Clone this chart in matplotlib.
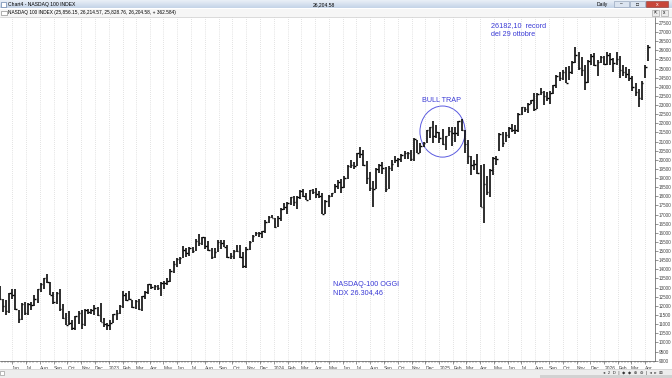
import numpy as np
import pandas as pd
import matplotlib
matplotlib.use("Agg")
import matplotlib.pyplot as plt
import matplotlib.dates as mdates
from matplotlib.patches import Ellipse, Rectangle
from matplotlib.colors import LinearSegmentedColormap
from matplotlib.ticker import MultipleLocator, FuncFormatter

plt.rcParams['font.family'] = ['Liberation Sans', 'DejaVu Sans']

W, H = 672, 378
BLUE = "#3b3bd6"

# weekly bars (NASDAQ-100), first week = Mon 2 May 2022, plotted mid-week
first_week = "2022-05-04"

week_high = [
    # 2022
    13100, 12400, 12300, 12700, 12900, 12950, 11800, 12150, 12200, 12150, 12200, 12600,
    12950, 13250, 13550, 13720, 13300, 12750, 12750, 12950, 12100, 11600, 11700, 11200,
    11450, 11700, 11750, 11850, 11850, 11850, 12050, 11950, 12170, 11330, 11070,
    # 2023
    11200, 11550, 11750, 12050, 12800, 12700, 12800, 12300, 12300, 12350, 12550, 12800,
    13200, 13200, 13150, 13150, 13300, 13350, 13500, 14000, 14450, 14600, 14700, 15290,
    15150, 15200, 15250, 15650, 15930, 15800, 15780, 15550, 15150, 15150, 15600, 15600,
    15600, 15350, 14900, 15050, 15350, 15350, 14950, 15200, 15550, 15900, 16050, 16050,
    16100, 16700, 16950, 16970,
    # 2024
    16800, 16900, 17350, 17650, 17700, 17980, 18000, 18000, 18350, 18420, 18200, 18350,
    18400, 18450, 18300, 18200, 17800, 18050, 18200, 18700, 18900, 18950, 19100, 19700,
    19980, 19900, 20400, 20690, 20550, 19950, 19350, 18850, 19550, 19800, 19900, 19600,
    19650, 20000, 20200, 20100, 20300, 20460, 20450, 20550, 21200, 21100, 20950, 21000,
    21650, 21800, 22130, 21900, 21550,
    # 2025
    21700, 21300, 21800, 21800, 21800, 22120, 22220, 21650, 21100, 20200, 20000, 20300,
    19700, 19800, 19100, 19500, 20150, 20200, 21450, 21500, 21500, 21800, 21950, 21900,
    22550, 22900, 22900, 23100, 23300, 23650, 23650, 23950, 23800, 23700, 23750, 24100,
    24650, 24800, 24900, 25100, 25150, 25400, 26180, 25900, 25650, 25200, 25450, 25800,
    25850, 25450, 25700, 25700,
    # 2026
    25900, 25850, 25600, 25900, 25700, 25200, 25100, 25000, 24600, 24200, 23900, 24300,
    25200, 26300,
]

week_low = [
    # 2022
    12300, 11650, 11500, 11600, 12400, 11800, 11040, 11250, 11500, 11500, 11800, 12000,
    12150, 12750, 12900, 13250, 12600, 12100, 12100, 11700, 11300, 10950, 10950, 10690,
    10700, 11000, 10750, 10900, 11550, 11550, 11500, 11450, 11100, 10850, 10700,
    # 2023
    10670, 11050, 11250, 11550, 11900, 12250, 12300, 11900, 11850, 11800, 11700, 12400,
    12650, 12900, 12850, 12850, 12550, 12900, 13150, 13300, 13800, 14150, 14300, 14650,
    14700, 14750, 14900, 15000, 15300, 15350, 15100, 15000, 14550, 14600, 14950, 15100,
    15200, 14650, 14550, 14550, 14950, 14600, 14070, 14100, 15050, 15500, 15850, 15750,
    15700, 16000, 16550, 16800,
    # 2024
    16250, 16300, 16650, 17250, 17050, 17500, 17450, 17300, 17850, 17950, 17800, 17800,
    18150, 17900, 17900, 17040, 17050, 17400, 17950, 18200, 18400, 18200, 18450, 18950,
    19550, 19500, 19650, 20100, 19650, 18700, 18300, 17400, 18400, 19300, 19250, 18250,
    18400, 19400, 19850, 19600, 19900, 20050, 20050, 19950, 19950, 20400, 20350, 20700,
    20900, 21200, 20950, 21200, 20900,
    # 2025
    20800, 20550, 21300, 20750, 21000, 21300, 21600, 20400, 19800, 19150, 19450, 19250,
    17400, 16540, 18100, 17950, 19150, 19700, 20500, 20700, 21000, 21200, 21500, 21400,
    21500, 22450, 22600, 22550, 23050, 22700, 22800, 23550, 23000, 23250, 23050, 23600,
    23950, 24300, 24400, 24200, 24400, 24700, 25300, 24900, 24600, 23850, 24200, 25200,
    25150, 24600, 25300, 25200,
    # 2026
    25200, 25200, 24800, 25200, 24500, 24600, 24500, 24300, 23800, 23500, 22900, 23300,
    24500, 25400,
]

week_close = [
    # 2022
    12400, 12000, 11700, 12680, 12600, 11830, 11265, 12130, 11630, 12130, 12030, 12400,
    12950, 13200, 13550, 13290, 12600, 12200, 12700, 11850, 11350, 10975, 11050, 10800,
    11450, 11600, 10990, 11800, 11680, 11780, 11900, 11500, 11120, 11000, 10940,
    # 2023
    11040, 11540, 11620, 12000, 12570, 12300, 12350, 11950, 12250, 11830, 12520, 12770,
    13180, 13060, 13080, 13000, 13250, 13240, 13340, 13900, 14300, 14550, 14600, 15080,
    14900, 15180, 15000, 15560, 15450, 15750, 15270, 15050, 14700, 14940, 15500, 15460,
    15200, 14700, 14720, 15000, 15000, 14700, 14180, 15100, 15520, 15850, 15980, 15990,
    16080, 16620, 16890, 16830,
    # 2024
    16310, 16830, 17310, 17420, 17640, 17960, 17690, 17940, 18300, 18020, 17810, 18340,
    18250, 18150, 18000, 17040, 17720, 18000, 18160, 18550, 18810, 18540, 19000, 19660,
    19700, 19680, 20390, 20330, 19720, 19000, 18440, 18430, 19510, 19720, 19570, 18420,
    19580, 19790, 20000, 20030, 20270, 20360, 20350, 20030, 21120, 20400, 20740, 20930,
    21620, 21780, 21290, 21550, 21200,
    # 2025
    20850, 21300, 21600, 21480, 21490, 22110, 21610, 20880, 20200, 19700, 19750, 19280,
    17400, 18690, 18260, 19430, 20100, 20060, 21430, 20900, 21340, 21760, 21630, 21630,
    22530, 22870, 22780, 23070, 23270, 22760, 23610, 23710, 23500, 23400, 23650, 24090,
    24620, 24500, 24790, 24220, 24820, 25360, 25720, 25060, 24950, 24240, 25430, 25690,
    25200, 25350, 25640, 25250,
    # 2026
    25750, 25500, 25300, 25550, 24900, 24800, 24700, 24500, 24000, 23700, 23400, 24200,
    25100, 26204,
]

y_ticks_step = 500
month_names = ["Jan", "Feb", "Mar", "Apr", "May", "Jun",
               "Jul", "Aug", "Sep", "Oct", "Nov", "Dec"]

assert len(week_high) == len(week_low) == len(week_close)

dates = pd.date_range(first_week, periods=len(week_close), freq="7D")
xd = mdates.date2num(dates)

fig = plt.figure(figsize=(W / 100, H / 100), dpi=100)
fig.patch.set_facecolor("white")

# --- price panel ----------------------------------------------------------
ax = fig.add_axes([0, (H - 361) / H, 655 / W, (361 - 17) / H])
ax.vlines(xd, week_low, week_high, color="black", lw=1.15)
ax.hlines(week_close, xd, xd + 3.5, color="black", lw=1.0)

ax.set_xlim(mdates.date2num(pd.Timestamp("2022-05-05")),
            mdates.date2num(pd.Timestamp("2026-04-23")))
ax.set_ylim(8980, 27827)

ax.yaxis.tick_right()
ax.yaxis.set_major_locator(MultipleLocator(y_ticks_step))
ax.yaxis.set_major_formatter(FuncFormatter(lambda v, p: "%d" % v))
ax.tick_params(axis="y", labelsize=3.3, length=2, width=0.4, pad=1,
               colors="#444444")

ax.xaxis.set_major_locator(mdates.MonthLocator())
ax.xaxis.set_minor_locator(mdates.WeekdayLocator(byweekday=mdates.MO))


def month_label(v, pos):
    d = mdates.num2date(v)
    return str(d.year) if d.month == 1 else month_names[d.month - 1]


ax.xaxis.set_major_formatter(FuncFormatter(month_label))
ax.tick_params(axis="x", which="major", labelsize=3.5, length=2.5, width=0.4,
               pad=1, colors="#444444")
ax.tick_params(axis="x", which="minor", length=1.2, width=0.3, colors="#555555")
plt.setp(ax.get_xticklabels(), ha="left")

ax.grid(axis="x", which="major", color="#c8c8c8", ls=(0, (1, 2)), lw=0.5)
for s in ("left", "top"):
    ax.spines[s].set_visible(False)
for s in ("bottom", "right"):
    ax.spines[s].set_color("#555555")
    ax.spines[s].set_linewidth(0.5)

# bull trap ring
ax.add_patch(Ellipse((mdates.date2num(pd.Timestamp("2025-01-08")), 21550),
                     100, 2800, fill=False, edgecolor="#5a5ae0", lw=0.7))

# --- window chrome (pixel coordinates) ---------------------------------
ui = fig.add_axes([0, 0, 1, 1], zorder=5)
grad = np.linspace(0, 1, 20).reshape(-1, 1)
bar_cmap = LinearSegmentedColormap.from_list("bar", ["#eef3f9", "#c5d4e8"])
ui.imshow(grad, extent=(0, W, 8.5, 0), aspect="auto", cmap=bar_cmap)
ui.set_xlim(0, W)
ui.set_ylim(H, 0)
ui.axis("off")

ui.add_patch(Rectangle((1, 1.5), 5, 5, facecolor="#ffffff", edgecolor="#4a6a9a", lw=0.4))
ui.text(8, 4.5, "Chart4 - NASDAQ 100 INDEX", fontsize=3.6, va="center")
ui.text(313, 4.5, "26,204.58", fontsize=3.6, va="center")
ui.text(597, 4.5, "Daily", fontsize=3.6, va="center")
ui.add_patch(Rectangle((614, 1), 15, 6, facecolor="#dbe4f0", edgecolor="#8a9bb3", lw=0.4))
ui.add_patch(Rectangle((630, 1), 15, 6, facecolor="#dbe4f0", edgecolor="#8a9bb3", lw=0.4))
ui.add_patch(Rectangle((646, 1), 22, 6, facecolor="#c8463a", edgecolor="#8a3a30", lw=0.4))
ui.text(621.5, 4.3, "–", fontsize=3.5, ha="center", va="center")
ui.text(637.5, 4.3, "□", fontsize=3.5, ha="center", va="center")
ui.text(657, 4.3, "x", fontsize=3.8, ha="center", va="center", color="white")

ui.add_patch(Rectangle((0, 8.5), W, 8.5, facecolor="#f6f6f6", edgecolor="none"))
ui.plot([0, W], [17, 17], color="#c0c0c0", lw=0.4)
ui.add_patch(Rectangle((0.5, 11), 6, 4, facecolor="white", edgecolor="#777777", lw=0.4))
ui.text(7.5, 12.8, "NASDAQ 100 INDEX (25,856.15, 26,214.57, 25,828.76, 26,204.58, + 362.584)",
        fontsize=3.4, va="center")
ui.add_patch(Rectangle((652, 10), 7, 6, facecolor="#ececec", edgecolor="#999999", lw=0.4))
ui.add_patch(Rectangle((661, 10), 7, 6, facecolor="#ececec", edgecolor="#999999", lw=0.4))
ui.text(655.5, 13, "⇱", fontsize=3.2, ha="center", va="center")
ui.text(664.5, 13, "x", fontsize=3.4, ha="center", va="center")

ui.add_patch(Rectangle((0, 369), W, 9, facecolor="#ededed", edgecolor="none"))
ui.plot([0, W], [369, 369], color="#c8c8c8", lw=0.4)
ui.add_patch(Rectangle((540, 375), 132, 3, facecolor="#d2d2d2", edgecolor="none"))
ui.add_patch(Rectangle((0, 370.5), 4, 4.5, facecolor="white", edgecolor="#888888", lw=0.4))
ui.text(603, 372.8, "◂  2  D  |  ◆  ◆  ⊕  ⊖  |  ◂  ▸  ⊞", fontsize=3.2, va="center",
        color="#333333")

# --- annotations ---------------------------------------------------------
ui.text(421.7, 100, "BULL TRAP", fontsize=5.2, color=BLUE, va="center")
ui.text(490.7, 26, "26182,10  record", fontsize=5.2, color=BLUE, va="center")
ui.text(490.7, 34.5, "del 29 ottobre", fontsize=5.2, color=BLUE, va="center")
ui.text(333, 284.3, "NASDAQ-100 OGGI", fontsize=5.2, color=BLUE, va="center")
ui.text(333, 292.3, "NDX 26.304,46", fontsize=5.2, color=BLUE, va="center")

fig.savefig("out.png", dpi=100)
